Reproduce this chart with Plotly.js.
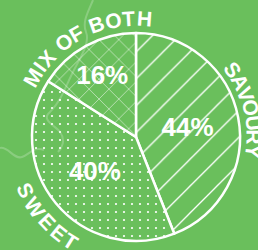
<!DOCTYPE html>
<html>
<head>
<meta charset="utf-8">
<script src="https://cdn.plot.ly/plotly-3.0.1.min.js"></script>
<style>html,body{margin:0;padding:0;background:#6abf5c;}#chart{width:258px;height:250px;}</style>
</head>
<body>
<div id="chart"></div>
<script>
// ---- data ----
const categories = ['SAVOURY', 'SWEET', 'MIX OF BOTH'];
const shares = [44, 40, 16];
const patterns = ['/', '.', 'x'];

// ---- layout helpers ----
const W = 258, H = 250;
const CX = 136, CY = 137, R = 104;
const GREEN = '#6abf5c';
const FONT = 'Liberation Sans, Arial, Helvetica, sans-serif';

// approximate bold glyph widths (em)
const WID = {M:.833,I:.278,X:.667,' ':.278,O:.778,F:.611,B:.722,T:.611,H:.722,S:.667,A:.722,V:.667,U:.722,R:.722,Y:.667,W:.944,E:.667};

function arcLetters(text, a0, a1, r, inward, size) {
  const chars = text.split('');
  const w = chars.map(c => WID[c] || .6);
  const centers = [];
  let acc = 0;
  w.forEach((wi, i) => { centers.push(acc + wi / 2); acc += wi; });
  const first = centers[0], last = centers[centers.length - 1];
  const out = [];
  chars.forEach((c, i) => {
    if (c === ' ') return;
    const t = (centers[i] - first) / (last - first);
    const th = a0 + (a1 - a0) * t;
    const rad = th * Math.PI / 180;
    const px = CX + r * Math.sin(rad);
    const py = CY - r * Math.cos(rad);
    out.push({
      x: px / W, y: 1 - py / H, xref: 'paper', yref: 'paper',
      text: c, showarrow: false, xanchor: 'center', yanchor: 'middle',
      textangle: inward ? th - 180 : th,
      font: {family: FONT, size: size, color: 'white', weight: 'bold'}
    });
  });
  return out;
}

const annotations = []
  .concat(arcLetters(categories[0], 55, 97, 118, false, 21))
  .concat(arcLetters(categories[1], 244, 212, 123, true, 21))
  .concat(arcLetters(categories[2], -60, 4, 119, false, 21));

function P(x, y) { return [x / W, 1 - y / H]; }
function pathPx(cmds) {
  return cmds.map(c => c[0] + ' ' + c.slice(1).reduce((s, v, i, arr) => {
    if (i % 2 === 0) { const p = P(arr[i], arr[i + 1]); s.push(p[0].toFixed(4) + ',' + p[1].toFixed(4)); }
    return s;
  }, []).join(' ')).join(' ');
}

const squiggle = pathPx([
  ['M', 93, 0], ['C', 88, 12, 82, 22, 86, 32], ['C', 90, 42, 82, 55, 74, 70],
  ['C', 66, 85, 62, 100, 50, 112], ['C', 40, 120, 56, 126, 60, 132], ['C', 66, 140, 62, 148, 58, 152]
]);
const squiggle2 = pathPx([
  ['M', 0, 148], ['C', 8, 146, 14, 160, 22, 157], ['C', 30, 154, 34, 146, 44, 150]
]);

const data = [{
  type: 'pie',
  labels: categories,
  values: shares,
  sort: false,
  direction: 'clockwise',
  rotation: 0,
  textinfo: 'percent',
  textposition: 'inside',
  insidetextorientation: 'horizontal',
  textfont: {family: FONT, size: 26, color: 'white', weight: 'bold'},
  hoverinfo: 'none',
  showlegend: false,
  domain: {x: [(CX - R) / W, (CX + R) / W], y: [1 - (CY + R) / H, 1 - (CY - R) / H]},
  marker: {
    colors: [GREEN, GREEN, GREEN],
    line: {color: 'white', width: 2.5},
    pattern: {shape: patterns, fgcolor: 'white', bgcolor: GREEN, size: [19, 8, 14], solidity: [0.07, 0.06, 0.07]}
  }
}];

const layout = {
  width: W, height: H,
  margin: {l: 0, r: 0, t: 0, b: 0},
  paper_bgcolor: GREEN, plot_bgcolor: GREEN,
  uniformtext: {minsize: 26, mode: 'show'},
  annotations: annotations,
  shapes: [
    {type: 'path', path: squiggle, xref: 'paper', yref: 'paper', line: {color: 'rgba(255,255,255,0.22)', width: 2}, layer: 'above'},
    {type: 'path', path: squiggle2, xref: 'paper', yref: 'paper', line: {color: 'rgba(255,255,255,0.22)', width: 2}, layer: 'above'}
  ]
};

Plotly.newPlot('chart', data, layout, {displayModeBar: false, staticPlot: true});
</script>
</body>
</html>
